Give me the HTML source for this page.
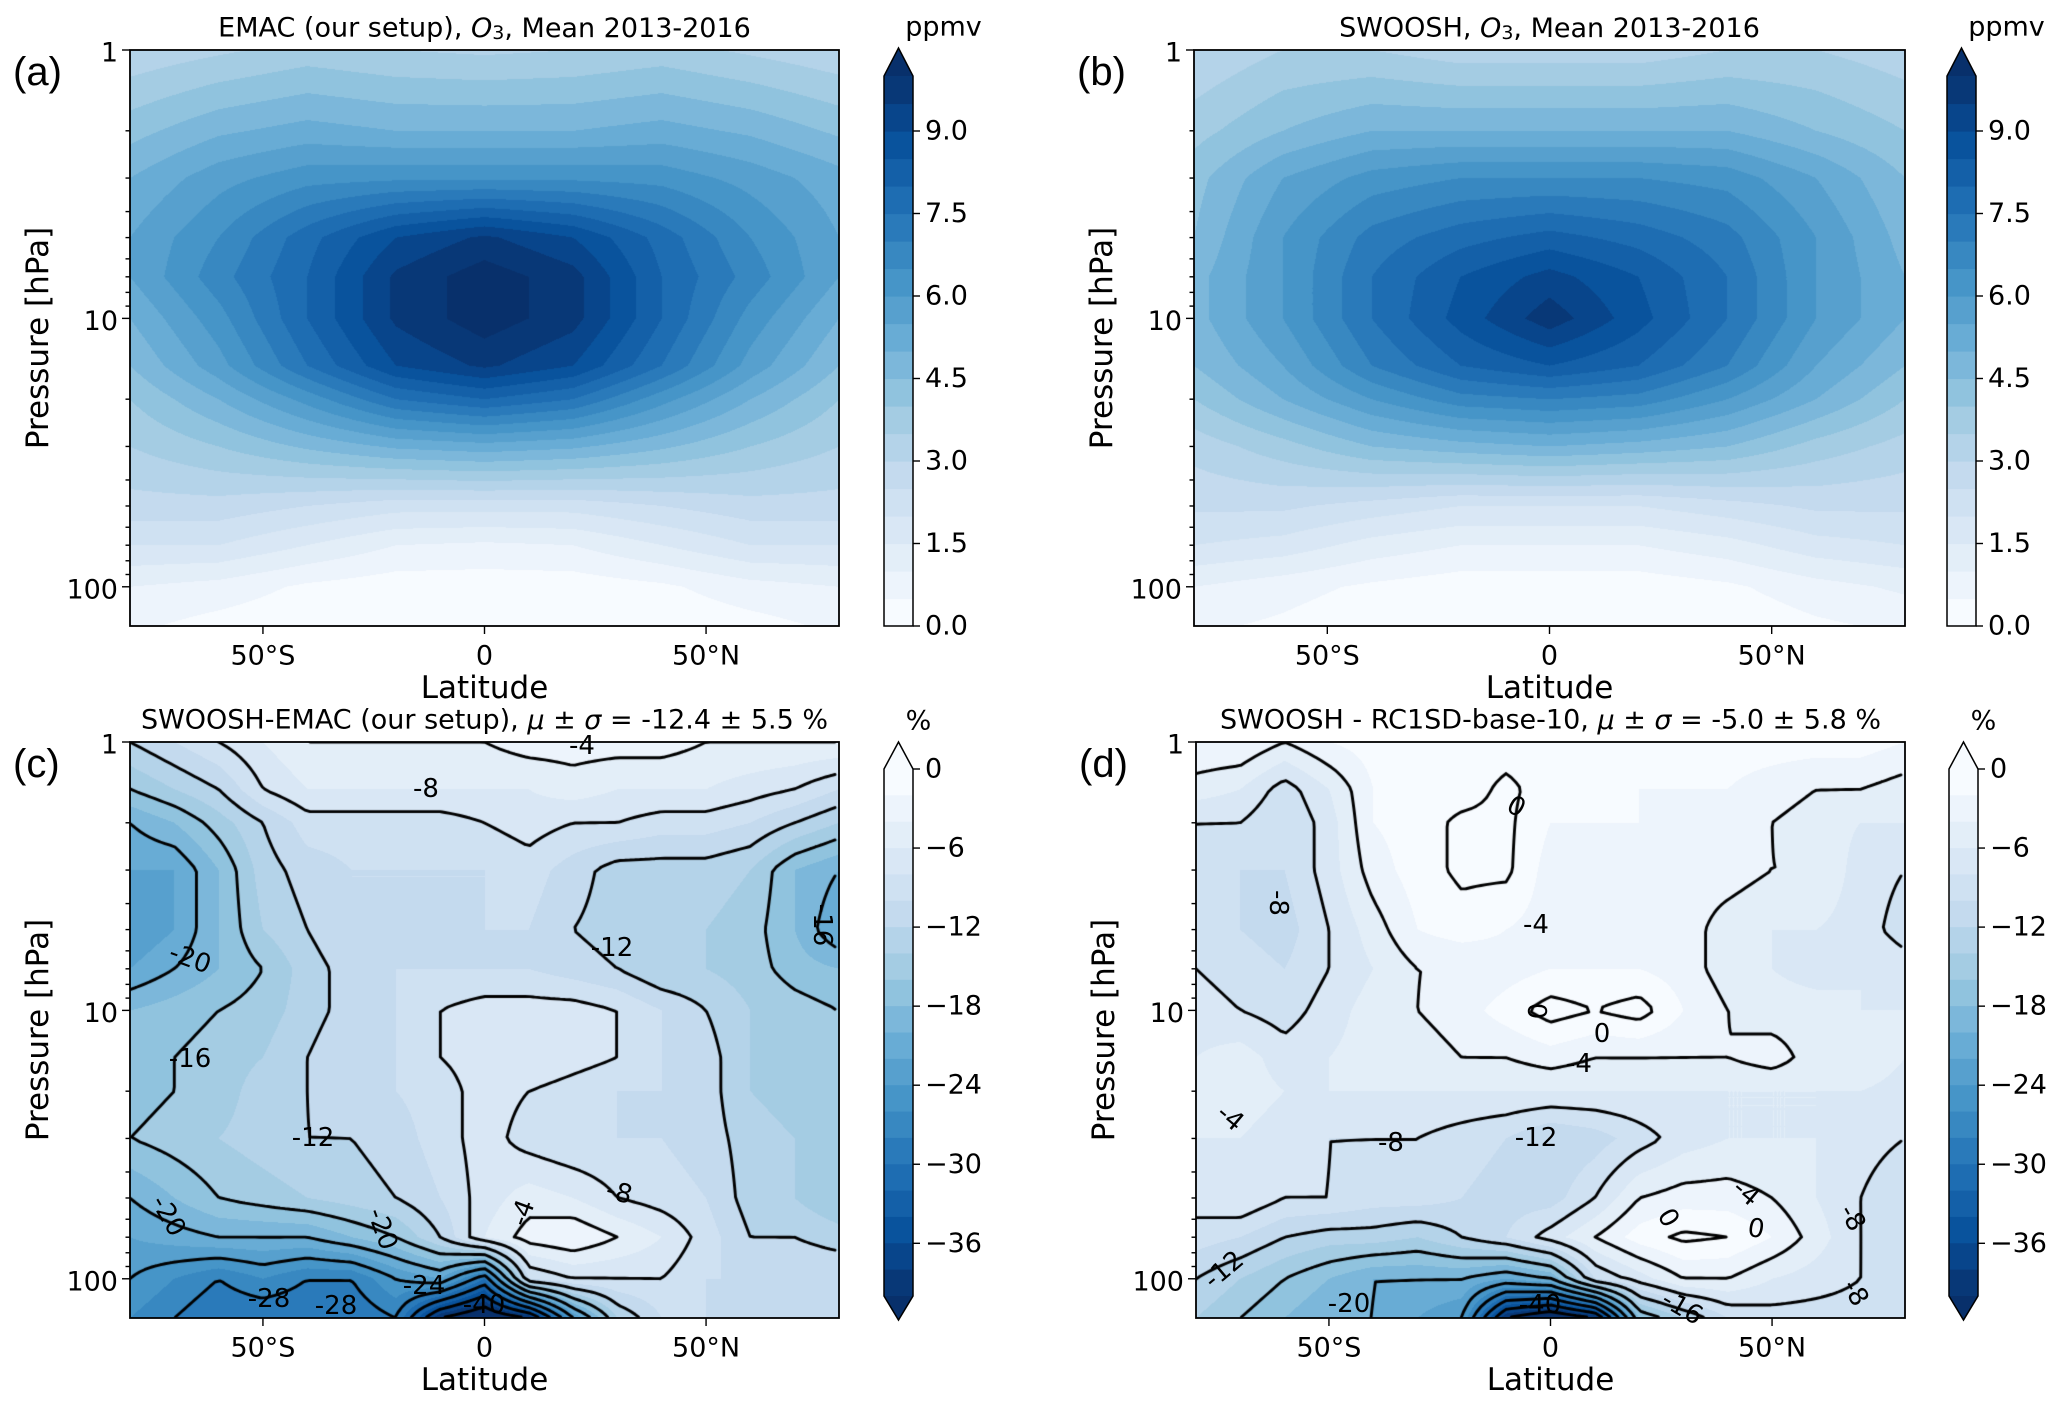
<!DOCTYPE html>
<html><head><meta charset="utf-8">
<style>
body{margin:0;width:2067px;height:1407px;background:#fff;position:relative;overflow:hidden;font-family:"DejaVu Sans","Liberation Sans",sans-serif}
canvas,svg{position:absolute;left:0;top:0}
</style></head>
<body>
<canvas id="cv" width="2067" height="1407"></canvas>
<svg id="sv" width="2067" height="1407" xmlns="http://www.w3.org/2000/svg"></svg>
<script>
// ---------- data ----------
const latsAB = [-80,-60,-40,-20,0,20,40,60,80];
const presAB = [1,2,3,5,7,10,15,20,30,50,70,100,140];
const o3EMAC = [
[3.1,3.4,3.7,3.5,3.4,3.5,3.7,3.4,3.1],
[4.3,4.9,5.2,5,5,5,5.2,4.9,4.4],
[5,5.8,6.3,6.4,6.4,6.4,6.3,5.8,5.2],
[5.5,6.5,7.8,9,9.6,9,7.8,6.5,5.5],
[5.5,6.8,8,9.6,10.3,9.7,8,6.8,5.5],
[5,6.3,8,9.6,10.3,9.7,8,6.3,5],
[4.5,5.8,7.5,9,9.6,9,7.5,5.8,4.5],
[4,5,6.2,7.5,8,7.5,6.2,5,4],
[3.5,4,4.6,5.1,5.3,5.1,4.6,4,3.5],
[2.8,2.8,2.5,2.2,2.2,2.2,2.5,2.8,2.8],
[2,2,1.5,1,0.9,1,1.5,2,2],
[1,0.8,0.4,0.2,0.2,0.2,0.4,0.8,1],
[0.6,0.3,0.1,0,0,0,0.1,0.3,0.6]];
const o3SWOOSH = [
[3,3.5,3.5,3.2,3.2,3.2,3.5,3.5,3.2],
[3.8,4.5,5,5,5,5,5,4.5,4],
[4.3,5.5,6.2,6.5,6.5,6.5,6.3,5.5,4.5],
[4.5,6,7.2,7.8,8.2,7.8,7.2,6,4.8],
[4.8,6,7.5,8.5,9.2,8.5,7.5,6,5],
[4.8,6,7.5,8.7,9.8,8.7,7.5,6,5],
[4.5,5.5,7,8,8.5,8,7,5.5,4.5],
[4,5,6,6.8,7,6.8,6,5,4],
[3.2,3.8,4.5,4.8,5,4.8,4.5,3.8,3.3],
[2.6,2.6,2.3,2,2,2,2.3,2.6,2.6],
[2,1.8,1.3,1,1,1,1.3,1.8,2],
[1,0.7,0.4,0.2,0.2,0.2,0.4,0.8,1.1],
[0.6,0.4,0.1,0,0,0,0.1,0.4,0.6]];
const latsCD = [-80,-70,-60,-50,-40,-30,-20,-10,0,10,20,30,40,50,60,70,80];
const presCD = [1,1.5,2,3,5,7,10,15,20,30,50,70,100,140];
const diffC = [
[-12,-10,-8,-6,-4,-4,-4,-4,-4,-3,-3,-3,-3,-4,-4,-4,-4],
[-16,-14,-12,-8,-6,-6,-6,-6,-6,-6,-5,-6,-6,-6,-7,-8,-10],
[-20,-18,-15,-12,-9,-9,-9,-9,-8,-7,-8,-8,-9,-9,-10,-12,-14],
[-22,-22,-18,-13,-11,-10,-10,-10,-10,-9,-11,-13,-13,-13,-14,-18,-20],
[-24,-22,-18,-14,-12,-10,-10,-10,-10,-10,-12,-13,-13,-14,-15,-18,-22],
[-22,-20,-18,-16,-13,-11,-10,-10,-10,-10,-11,-12,-14,-14,-15,-17,-18],
[-18,-17,-16,-15,-13,-11,-10,-8,-7,-7,-7,-8,-10,-12,-14,-15,-16],
[-17,-16,-15,-14,-12,-10,-10,-8,-7,-6,-7,-8,-10,-11,-14,-15,-16],
[-17,-16,-15,-13,-12,-11,-10,-9,-7,-8,-9,-10,-10,-11,-14,-15,-16],
[-16,-15,-14,-13,-12,-12,-11,-9,-7,-9,-10,-10,-10,-11,-13,-14,-16],
[-20,-18,-16,-15,-14,-13,-12,-10,-7,-5,-6,-8,-9,-10,-13,-14,-16],
[-22,-21,-20,-20,-20,-18,-16,-12,-6,-3,-2,-4,-6,-9,-12,-12,-13],
[-24,-26,-28,-26,-28,-28,-24,-22,-30,-10,-8,-8,-8,-10,-10,-10,-10],
[-26,-28,-30,-30,-30,-30,-28,-40,-44,-40,-24,-14,-10,-10,-10,-10,-10]];
const diffD = [
[-2,-2,-4,-2,-1,0,-1,-1,-1,-1,-1,-1,-1,-1,-1,-1,-2],
[-5,-6,-9,-6,-2,-1,-1,0.5,-1,-1,-2,-2,-2,-3,-4,-4,-5],
[-8,-8,-10,-7,-2,-1,0.5,0.5,-2,-2,-2,-3,-3,-4,-5,-6,-6],
[-9,-10,-10,-7,-3,-1,0.5,0.5,-3,-3,-3,-3,-3,-4,-4,-7,-8],
[-9,-10,-11,-8,-5,-2,-1,-2,-3,-3,-3,-3,-5,-6,-6,-7,-9],
[-8,-9,-10,-8,-6,-4,-4,-3,-2,-2,-2,-3,-5,-6,-7,-6,-7],
[-7,-8,-9,-7,-5,-4,-3,-1,1,0,1,-2,-4,-5,-5,-6,-6],
[-6,-5,-7,-6,-5,-5,-4,-4,-3,-4,-4,-4,-4,-3,-5,-4,-6],
[-5,-5,-6,-6,-6,-6,-6,-6,-6,-6,-6,-6,-6,-6,-6,-6,-7],
[-6,-6,-7,-8,-8,-8,-9,-10,-12,-11,-9,-7,-6,-6,-6,-7,-8],
[-7,-6,-8,-8,-9,-9,-10,-11,-11,-8,-4,-3,-3,-4,-6,-8,-10],
[-9,-10,-12,-13,-13,-14,-12,-10,-7,-4,-1,0.5,0,-2,-5,-8,-9],
[-12,-14,-16,-18,-20,-20,-20,-22,-20,-10,-7,-4,-4,-6,-7,-8,-9],
[-14,-16,-18,-20,-20,-22,-24,-40,-44,-40,-18,-14,-10,-9,-9,-9,-9]];
const cbTicksO3 = [0,1.5,3,4.5,6,7.5,9];
const cbTicksDiff = [0,-6,-12,-18,-24,-30,-36];
const xTicks = [-50,0,50];
const xTickLabels = ["50°S","0","50°N"];
const yTicks = [1,10,100];
const labelsC = [["-4",582,746,0],["-8",426,789,0],["-20",190,959,20],["-12",612,948,0],["-16",822,925,90],["-16",190,1059,0],["-12",313,1138,0],["-8",619,1193,15],["-4",523,1213,-70],["-20",168,1216,60],["-20",382,1229,70],["-28",269,1299,0],["-28",336,1306,0],["-24",424,1286,0],["-40",484,1305,0]];
const labelsD = [["0",1516,807,30],["-8",1278,903,90],["-4",1536,925,0],["0",1536,1011,90],["0",1602,1034,0],["-4",1579,1064,0],["-4",1230,1118,40],["-8",1391,1143,0],["-12",1536,1138,0],["-4",1746,1193,40],["0",1668,1218,60],["0",1756,1229,10],["-8",1852,1218,60],["-8",1855,1293,60],["-20",1349,1304,0],["-12",1224,1270,-40],["-16",1682,1308,30],["-40",1540,1305,0]];

// ---------- helpers ----------
const blues=[[247,251,255],[222,235,247],[198,219,239],[158,202,225],[107,174,214],[66,146,198],[33,113,181],[8,81,156],[8,48,107]];
function cmap(t){t=Math.max(0,Math.min(1,t));const f=t*8,i=Math.min(7,Math.floor(f)),r=f-i;return blues[i].map((c,k)=>Math.round(c+(blues[i+1][k]-c)*r));}
const PMAX=140;
function interp(lat,p,lats,pres,g){
  let i=0;while(i<lats.length-2&&lat>lats[i+1])i++;
  let tx=(lat-lats[i])/(lats[i+1]-lats[i]);tx=Math.max(0,Math.min(1,tx));
  const lp=Math.log(p);let j=0;while(j<pres.length-2&&lp>Math.log(pres[j+1]))j++;
  let ty=(lp-Math.log(pres[j]))/(Math.log(pres[j+1])-Math.log(pres[j]));ty=Math.max(0,Math.min(1,ty));
  const a=g[j][i],b=g[j][i+1],c=g[j+1][i],d=g[j+1][i+1];
  return (a*(1-tx)+b*tx)*(1-ty)+(c*(1-tx)+d*tx)*ty;
}
const cv=document.getElementById('cv'),ctx=cv.getContext('2d');
const sv=document.getElementById('sv');const NS='http://www.w3.org/2000/svg';
function el(tag,attrs,parent){const e=document.createElementNS(NS,tag);for(const k in attrs)e.setAttribute(k,attrs[k]);(parent||sv).appendChild(e);return e;}
function txt(s,x,y,size,anchor,parent){const t=el('text',{x:x,y:y,'font-size':size,'text-anchor':anchor||'middle','dominant-baseline':'central',fill:'#000'},parent);t.textContent=s;return t;}

function colorFor(v,kind){
  if(kind==='o3'){if(v>=10)return cmap(1);const b=Math.max(0,Math.floor(v/0.5));return cmap(b/19*0.97);}
  if(v>=0)return cmap(0);if(v<-40)return cmap(1);const b=Math.min(19,Math.floor(-v/2));return cmap(b/19*0.97);
}

function panel(P){
  const {x,y,w,h,lats,pres,grid,kind}=P;
  const xs=lat=>x+(lat+80)/160*w;
  const ys=p=>y+Math.log10(p)/Math.log10(PMAX)*h;
  const img=ctx.createImageData(w,h);
  for(let py=0;py<h;py++){const p=Math.pow(10,(py+0.5)/h*Math.log10(PMAX));
    for(let px=0;px<w;px++){const lat=-80+(px+0.5)/w*160;const v=interp(lat,p,lats,pres,grid);const c=colorFor(v,kind);const k=(py*w+px)*4;img.data[k]=c[0];img.data[k+1]=c[1];img.data[k+2]=c[2];img.data[k+3]=255;}}
  ctx.putImageData(img,x,y);
  if(kind==='diff'){
    const s=5,nx=Math.floor(w/s)+1,ny=Math.floor(h/s)+1;const F=[];
    for(let j=0;j<ny;j++){const row=[];const p=Math.pow(10,Math.min(h,j*s)/h*Math.log10(PMAX));for(let i=0;i<nx;i++){row.push(interp(-80+Math.min(w,i*s)/w*160,p,lats,pres,grid));}F.push(row);}
    ctx.save();ctx.beginPath();ctx.rect(x,y,w,h);ctx.clip();ctx.strokeStyle='#000';ctx.lineWidth=2.9;ctx.lineJoin='round';ctx.lineCap='round';
    const levels=P.levels;
    ctx.beginPath();
    for(const L of levels){
      for(let j=0;j<ny-1;j++)for(let i=0;i<nx-1;i++){
        const v=[F[j][i],F[j][i+1],F[j+1][i+1],F[j+1][i]];
        const pts=[[0,0],[1,0],[1,1],[0,1]];const cr=[];
        for(let e=0;e<4;e++){const a=v[e],b=v[(e+1)%4];if((a<L)!==(b<L)){const t=(L-a)/(b-a);const pa=pts[e],pb=pts[(e+1)%4];cr.push([x+(i+pa[0]+(pb[0]-pa[0])*t)*s,y+(j+pa[1]+(pb[1]-pa[1])*t)*s]);}}
        if(cr.length>=2){ctx.moveTo(cr[0][0],cr[0][1]);ctx.lineTo(cr[1][0],cr[1][1]);}
        if(cr.length===4){ctx.moveTo(cr[2][0],cr[2][1]);ctx.lineTo(cr[3][0],cr[3][1]);}
      }
    }
    ctx.stroke();ctx.restore();
    const g=el('g',{});
    for(const lb of P.labels){const t=txt(lb[0],lb[1],lb[2],26,'middle',g);t.setAttribute('transform','rotate('+lb[3]+' '+lb[1]+' '+lb[2]+')');
      
      }
  }
  const ax=el('g',{});
  el('rect',{x:x,y:y,width:w,height:h,fill:'none',stroke:'#000','stroke-width':1.8},ax);
  for(let d=0;d<3;d++)for(let m=1;m<10;m++){const p=Math.pow(10,d)*m;if(p>PMAX)break;const yy=ys(p);const len=m===1?8:4.5;
    el('line',{x1:x-len,x2:x,y1:yy,y2:yy,stroke:'#000','stroke-width':1.4},ax);}
  yTicks.forEach(p=>{const t=txt(String(p),x-12,ys(p)+3,27,'end',ax);});
  xTicks.forEach((l,k)=>{const xx=xs(l);el('line',{x1:xx,x2:xx,y1:y+h,y2:y+h+8,stroke:'#000','stroke-width':1.4},ax);
    const t=txt(xTickLabels[k],xx,y+h+30,27,'middle',ax);});
  const xl=txt('Latitude',x+w/2,y+h+62,31,'middle',ax);
  const yl=txt('Pressure [hPa]',x-92,y+h/2,31,'middle',ax);yl.setAttribute('transform','rotate(-90 '+(x-92)+' '+(y+h/2)+')');
  
  const pl=el('text',{x:x-117,y:y+22,'font-size':40,'font-family':'Liberation Sans, sans-serif','dominant-baseline':'central',},ax);pl.textContent=P.tag;
  const tt=el('text',{x:x+w/2,y:y-22,'font-size':27,'text-anchor':'middle','dominant-baseline':'central',},ax);tt.innerHTML=P.title;
  const C=P.cb;const cbg=el('g',{});
  const n=20;for(let b=0;b<n;b++){let c,y0,y1;
    if(kind==='o3'){c=cmap(b/19*0.97);y1=C.bot-(b/n)*(C.bot-C.top);y0=C.bot-((b+1)/n)*(C.bot-C.top);}
    else{c=cmap(b/19*0.97);y0=C.top+(b/n)*(C.bot-C.top);y1=C.top+((b+1)/n)*(C.bot-C.top);}
    el('rect',{x:C.x,y:y0,width:C.w,height:y1-y0+0.6,fill:'rgb('+c+')'},cbg);}
  const mx=C.x+C.w/2;
  if(kind==='o3'){el('polygon',{points:`${C.x},${C.top} ${mx},${C.tip} ${C.x+C.w},${C.top}`,fill:'rgb('+cmap(1)+')'},cbg);
    el('polygon',{points:`${C.x},${C.bot} ${C.x},${C.top} ${mx},${C.tip} ${C.x+C.w},${C.top} ${C.x+C.w},${C.bot}`,fill:'none',stroke:'#000','stroke-width':1.5},cbg);
    cbTicksO3.forEach(v=>{const yy=C.bot-v/10*(C.bot-C.top);el('line',{x1:C.x+C.w,x2:C.x+C.w+7,y1:yy,y2:yy,stroke:'#000','stroke-width':1.4},cbg);
      const t=txt(v.toFixed(1),C.x+C.w+12,yy,27,'start',cbg);});
  }else{el('polygon',{points:`${C.x},${C.top} ${mx},${C.tip} ${C.x+C.w},${C.top}`,fill:'rgb('+cmap(0)+')'},cbg);
    el('polygon',{points:`${C.x},${C.bot} ${mx},${C.tip2} ${C.x+C.w},${C.bot}`,fill:'rgb('+cmap(1)+')'},cbg);
    el('polygon',{points:`${C.x},${C.top} ${mx},${C.tip} ${C.x+C.w},${C.top} ${C.x+C.w},${C.bot} ${mx},${C.tip2} ${C.x},${C.bot}`,fill:'none',stroke:'#000','stroke-width':1.5},cbg);
    cbTicksDiff.forEach(v=>{const yy=C.top+(-v)/40*(C.bot-C.top);el('line',{x1:C.x+C.w,x2:C.x+C.w+7,y1:yy,y2:yy,stroke:'#000','stroke-width':1.4},cbg);
      const t=txt(v===0?'0':'\u2212'+(-v),C.x+C.w+12,yy,27,'start',cbg);});
  }
  const u=txt(P.unit,mx+P.unitDx,C.uy,27,'middle',cbg);
}
const O3T='<tspan font-style="italic">O</tspan><tspan font-size="19" dy="5">3</tspan><tspan dy="-5">, Mean 2013-2016</tspan>';
panel({id:'panel-a',tag:'(a)',x:130,y:50,w:709,h:576,lats:latsAB,pres:presAB,grid:o3EMAC,kind:'o3',
  title:'EMAC (our setup), '+O3T,cb:{x:884,w:29,top:76,bot:626,tip:48,uy:27},unit:'ppmv',unitDx:45});
panel({id:'panel-b',tag:'(b)',x:1194,y:50,w:711,h:576,lats:latsAB,pres:presAB,grid:o3SWOOSH,kind:'o3',
  title:'SWOOSH, '+O3T,cb:{x:1947,w:29,top:76,bot:626,tip:48,uy:27},unit:'ppmv',unitDx:45});
const MU='<tspan font-style="italic">μ</tspan> ± <tspan font-style="italic">σ</tspan>';
panel({id:'panel-c',tag:'(c)',x:130,y:742,w:709,h:576,lats:latsCD,pres:presCD,grid:diffC,kind:'diff',levels:[-40,-36,-32,-28,-24,-20,-16,-12,-8,-4],labels:labelsC,
  title:'SWOOSH-EMAC (our setup), '+MU+' = -12.4 ± 5.5 %',cb:{x:884,w:29,top:769,bot:1296,tip:742,tip2:1320,uy:721},unit:'%',unitDx:20});
panel({id:'panel-d',tag:'(d)',x:1196,y:742,w:709,h:576,lats:latsCD,pres:presCD,grid:diffD,kind:'diff',levels:[-40,-36,-32,-28,-24,-20,-16,-12,-8,-4,0],labels:labelsD,
  title:'SWOOSH - RC1SD-base-10, '+MU+' = -5.0 ± 5.8 %',cb:{x:1949,w:29,top:769,bot:1296,tip:742,tip2:1320,uy:721},unit:'%',unitDx:20});
</script>
</body></html>
